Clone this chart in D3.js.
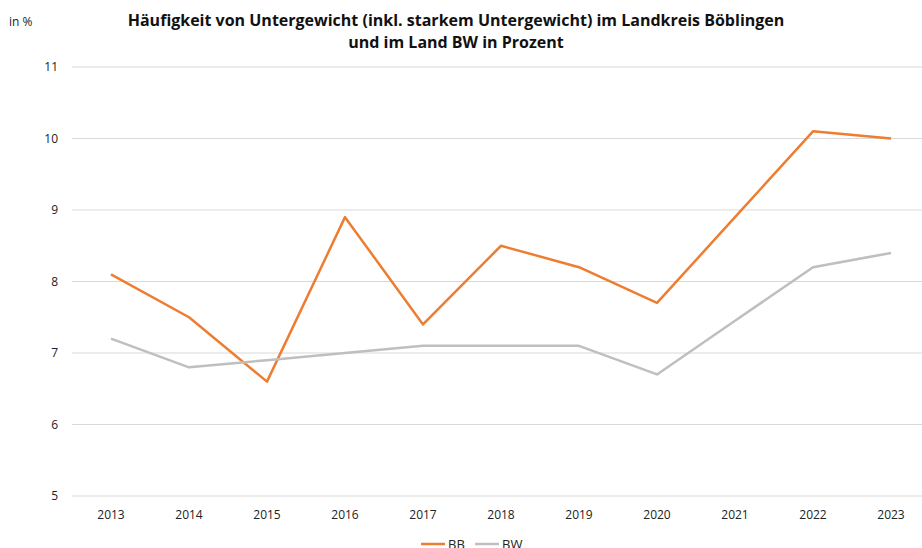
<!DOCTYPE html>
<html>
<head>
<meta charset="utf-8">
<script src="https://cdn.jsdelivr.net/npm/d3@7"></script>
<style>
  body { margin: 0; background: #fff; }
  text { font-family: "Open Sans", Lato, sans-serif; }
</style>
</head>
<body>
<div id="chart"></div>
<script>
var years = ["2013","2014","2015","2016","2017","2018","2019","2020","2021","2022","2023"];
var valuesBB = [8.1, 7.5, 6.6, 8.9, 7.4, 8.5, 8.2, 7.7, 8.9, 10.1, 10.0];
var valuesBW = [7.2, 6.8, 6.9, 7.0, 7.1, 7.1, 7.1, 6.7, 7.45, 8.2, 8.4];
var yTicks = [5, 6, 7, 8, 9, 10, 11];
var seriesNames = ["BB", "BW"];
var seriesColors = ["#ed7d31", "#bfbfbf"];

var width = 922, height = 548;
var plotLeft = 72, plotTop = 67, plotW = 858, plotH = 429;

var svg = d3.select("#chart").append("svg")
  .attr("width", width)
  .attr("height", height);

var x = d3.scaleBand().domain(years).range([plotLeft, plotLeft + plotW]);
var y = d3.scaleLinear().domain([5, 11]).range([plotTop + plotH, plotTop]);

// gridlines
svg.append("g")
  .selectAll("line")
  .data(yTicks)
  .join("line")
    .attr("x1", plotLeft)
    .attr("x2", plotLeft + plotW)
    .attr("y1", function(d){ return y(d); })
    .attr("y2", function(d){ return y(d); })
    .style("stroke", "#d9d9d9")
    .style("stroke-width", 1);

// y axis labels
var yAxis = svg.append("g")
  .attr("transform", "translate(" + (plotLeft - 14) + ",0)")
  .call(d3.axisLeft(y).tickValues(yTicks).tickFormat(d3.format("d")).tickSize(0).tickPadding(0));
yAxis.select(".domain").remove();
yAxis.selectAll("text")
  .style("font-family", "'Open Sans', sans-serif")
  .style("font-size", "12px")
  .style("fill", "#222");

// x axis labels
var xAxis = svg.append("g")
  .attr("transform", "translate(0," + (plotTop + plotH + 14) + ")")
  .call(d3.axisBottom(x).tickSize(0).tickPadding(0));
xAxis.select(".domain").remove();
xAxis.selectAll("text")
  .style("font-family", "'Open Sans', sans-serif")
  .style("font-size", "12px")
  .style("fill", "#222");

// lines
var line = d3.line()
  .x(function(d, i){ return x(years[i]) + x.bandwidth() / 2; })
  .y(function(d){ return y(d); });

[valuesBB, valuesBW].forEach(function(vals, k){
  svg.append("path")
    .datum(vals)
    .attr("d", line)
    .style("fill", "none")
    .style("stroke", seriesColors[k])
    .style("stroke-width", 2.5)
    .style("stroke-linejoin", "round");
});

// title
svg.append("text")
  .attr("x", 456).attr("y", 26)
  .attr("text-anchor", "middle")
  .style("font-size", "16px")
  .style("font-weight", "bold")
  .style("fill", "#111")
  .text("Häufigkeit von Untergewicht (inkl. starkem Untergewicht) im Landkreis Böblingen");
svg.append("text")
  .attr("x", 456).attr("y", 48)
  .attr("text-anchor", "middle")
  .style("font-size", "16px")
  .style("font-weight", "bold")
  .style("fill", "#111")
  .text("und im Land BW in Prozent");

svg.append("text")
  .attr("x", 9).attr("y", 26)
  .style("font-size", "12px")
  .style("fill", "#222")
  .text("in %");

// legend
var legend = svg.append("g").attr("transform", "translate(421,544)");
seriesNames.forEach(function(name, k){
  var g = legend.append("g").attr("transform", "translate(" + (k * 54) + ",0)");
  g.append("line")
    .attr("x1", 0).attr("x2", 24)
    .attr("y1", 0).attr("y2", 0)
    .style("stroke", seriesColors[k])
    .style("stroke-width", 2.5);
  g.append("text")
    .attr("x", 27).attr("y", 5)
    .style("font-size", "13px")
    .style("fill", "#222")
    .text(name);
});
</script>
</body>
</html>
